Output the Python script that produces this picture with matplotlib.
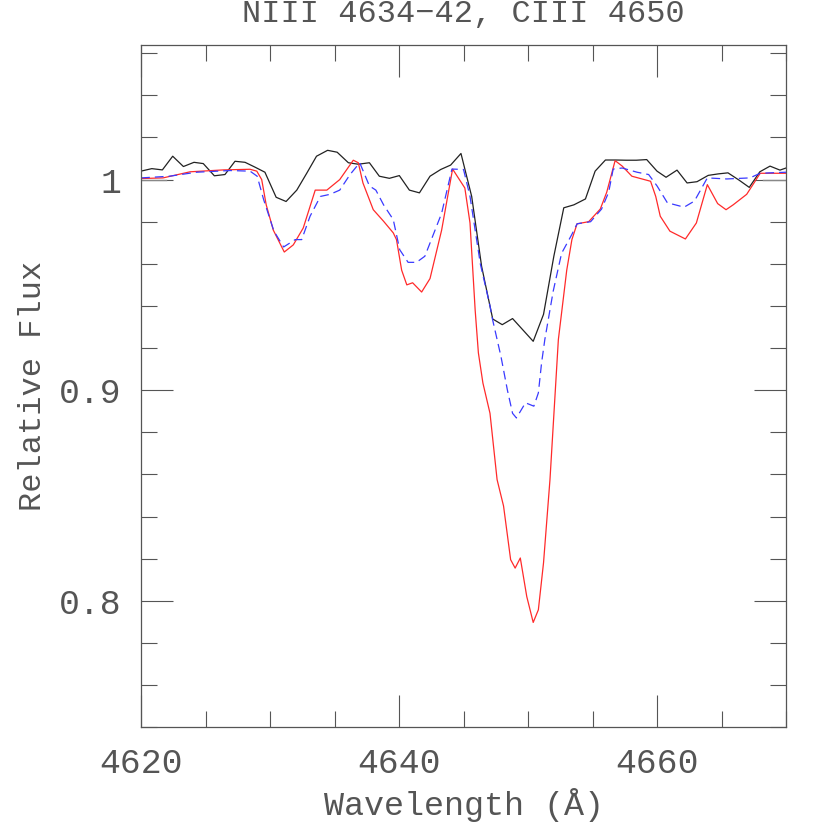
import matplotlib
matplotlib.use("Agg")
import matplotlib.pyplot as plt
from matplotlib.ticker import MultipleLocator

# observed spectrum (black)
obs_wave = [4620.05, 4620.83, 4621.65, 4622.45, 4623.28, 4624.1, 4624.82, 4625.68, 4626.5,
            4627.28, 4628.06, 4628.8, 4629.6, 4630.47, 4631.24, 4632.07, 4632.84, 4633.6,
            4634.46, 4635.2, 4636.07, 4636.84, 4637.7, 4638.47, 4639.25, 4640.02, 4640.8,
            4641.58, 4642.4, 4643.23, 4644.0, 4644.8, 4645.63, 4646.4, 4647.26, 4648.0,
            4648.8, 4650.4, 4651.2, 4652.0, 4652.77, 4653.55, 4654.45, 4655.2, 4656.0,
            4656.8, 4657.6, 4658.4, 4659.2, 4660.0, 4660.7, 4661.55, 4662.33, 4663.1,
            4663.97, 4664.74, 4665.5, 4666.37, 4667.15, 4667.97, 4668.76, 4669.53, 4670.0]
obs_flux = [1.0041, 1.0052, 1.0046, 1.0111, 1.0062, 1.0082, 1.0076, 1.0018, 1.0024,
            1.0087, 1.0082, 1.006, 1.0035, 0.9916, 0.9896, 0.995, 1.003, 1.0111,
            1.0139, 1.013, 1.008, 1.0073, 1.008, 1.0016, 1.0006, 1.0019, 0.995,
            0.9937, 1.0016, 1.0048, 1.0069, 1.0124, 0.992, 0.9588, 0.9338, 0.9311,
            0.934, 0.9232, 0.936, 0.9636, 0.9866, 0.988, 0.9908, 1.004, 1.0093,
            1.0093, 1.0092, 1.0092, 1.0095, 1.004, 1.0011, 1.0045, 0.9984, 0.999,
            1.002, 1.0027, 1.0032, 0.9997, 0.9963, 1.0037, 1.0064, 1.0045, 1.0055]

# model 1 (red, solid)
red_wave = [4620.0, 4621.7, 4623.8, 4626.4, 4628.45, 4628.97, 4629.35, 4629.7, 4630.25,
            4631.1, 4631.8, 4632.57, 4633.5, 4634.4, 4635.4, 4636.45, 4636.84, 4637.2,
            4638.0, 4638.8, 4639.55, 4639.8, 4640.2, 4640.6, 4641.05, 4641.75, 4642.4,
            4643.3, 4644.15, 4645.1, 4645.5, 4645.76, 4645.9, 4646.15, 4646.5, 4647.05,
            4647.6, 4648.1, 4648.65, 4649.0, 4649.4, 4649.9, 4650.4, 4650.8, 4651.2,
            4651.7, 4652.35, 4653.0, 4653.4, 4653.8, 4654.7, 4655.6, 4656.1, 4656.75,
            4657.3, 4658.05, 4659.5, 4659.9, 4660.25, 4661.0, 4662.2, 4663.05, 4663.9,
            4664.7, 4665.35, 4665.9, 4666.95, 4668.0, 4670.0]
red_flux = [1.0005, 1.0008, 1.0037, 1.0046, 1.0049, 1.004, 1.0, 0.988, 0.976,
            0.9656, 0.969, 0.977, 0.995, 0.995, 1.0, 1.0092, 1.008, 0.9984,
            0.9857, 0.9802, 0.9747, 0.9715, 0.957, 0.950, 0.951, 0.9466, 0.953,
            0.976, 1.005, 0.996, 0.9794, 0.9525, 0.938, 0.9177, 0.9034, 0.889,
            0.8575, 0.845, 0.8195, 0.8155, 0.8203, 0.802, 0.7897, 0.7957, 0.818,
            0.8575, 0.924, 0.957, 0.9715, 0.979, 0.980, 0.986, 0.994, 1.009,
            1.0064, 1.0016, 0.9992, 0.992, 0.9826, 0.9755, 0.9718, 0.9794, 0.9976,
            0.9886, 0.9857, 0.988, 0.993, 1.003, 1.003]

# model 2 (blue, dashed)
blue_wave = [4620.0, 4622.2, 4624.3, 4626.9, 4628.45, 4629.0, 4629.5, 4630.3, 4631.05,
             4631.95, 4632.45, 4633.1, 4633.9, 4634.65, 4635.4, 4636.2, 4636.95, 4637.7,
             4638.2, 4638.8, 4639.55, 4640.05, 4640.7, 4641.35, 4642.0, 4643.3, 4644.1,
             4645.0, 4645.5, 4646.3, 4647.05, 4647.25, 4647.9, 4648.4, 4648.8, 4649.1,
             4649.8, 4650.45, 4650.8, 4651.05, 4651.3, 4651.95, 4652.6, 4653.4, 4653.8,
             4654.85, 4655.7, 4656.25, 4656.6, 4657.3, 4658.45, 4659.35, 4660.0, 4660.8,
             4662.1, 4662.9, 4663.9, 4665.4, 4667.2, 4668.0, 4670.0]
blue_flux = [1.0008, 1.0016, 1.0035, 1.0043, 1.004, 1.0016, 0.9905, 0.9755, 0.968,
             0.9715, 0.9715, 0.9826, 0.992, 0.993, 0.995, 1.0024, 1.008, 0.997,
             0.995, 0.988, 0.981, 0.9667, 0.9607, 0.9607, 0.9636, 0.984, 1.005,
             1.0048, 0.992, 0.960, 0.94, 0.9335, 0.916, 0.900, 0.889, 0.8868,
             0.894, 0.8924, 0.8987, 0.913, 0.924, 0.947, 0.965, 0.974, 0.979,
             0.980, 0.986, 0.994, 1.005, 1.0055, 1.0035, 1.0024, 0.997, 0.989,
             0.9869, 0.9898, 1.0008, 1.0003, 1.0008, 1.003, 1.0035]

# continuum markers at the edges
cont_left = [4620.0, 4621.9]
cont_right = [4668.2, 4670.0]
cont_level = 1.0

title = "NIII 4634\u221242, CIII 4650"
grey = "#555555"

plt.rcParams['font.family'] = ['Liberation Mono', 'DejaVu Sans Mono']

fig = plt.figure(figsize=(8.3, 8.3), dpi=100)
ax = fig.add_axes([0.170, 0.124, 0.777, 0.822])

ax.plot(cont_left, [cont_level] * 2, color="#888888", lw=1.0)
ax.plot(cont_right, [cont_level] * 2, color="#888888", lw=1.0)
ax.plot(obs_wave, obs_flux, color="#222222", lw=0.9)
ax.plot(red_wave, red_flux, color="#ff2a2a", lw=0.9)
ax.plot(blue_wave, blue_flux, color="#3a3aff", lw=0.9, dashes=(7, 4))

ax.set_xlim(4620, 4670)
ax.set_ylim(0.74, 1.064)
ax.xaxis.set_major_locator(MultipleLocator(20))
ax.xaxis.set_minor_locator(MultipleLocator(5))
ax.yaxis.set_major_locator(MultipleLocator(0.1))
ax.yaxis.set_minor_locator(MultipleLocator(0.02))
ax.set_yticks([0.8, 0.9, 1.0])
ax.set_yticklabels(["0.8", "0.9", "1"])

ax.tick_params(which="both", direction="in", top=True, right=True,
               color=grey, width=0.8, labelcolor=grey, labelsize=25)
ax.tick_params(which="major", length=23, pad=14)
ax.tick_params(which="minor", length=11.5)
for s in ax.spines.values():
    s.set_color(grey)
    s.set_linewidth(0.9)

ax.set_xlabel("Wavelength (\u00c5)", fontsize=24, color=grey, labelpad=6)
ax.set_ylabel("Relative Flux", fontsize=23, color=grey, labelpad=8)
fig.text(0.558, 0.9735, title, fontsize=23, color=grey, ha="center", va="baseline")

fig.savefig("out.png", dpi=100)
